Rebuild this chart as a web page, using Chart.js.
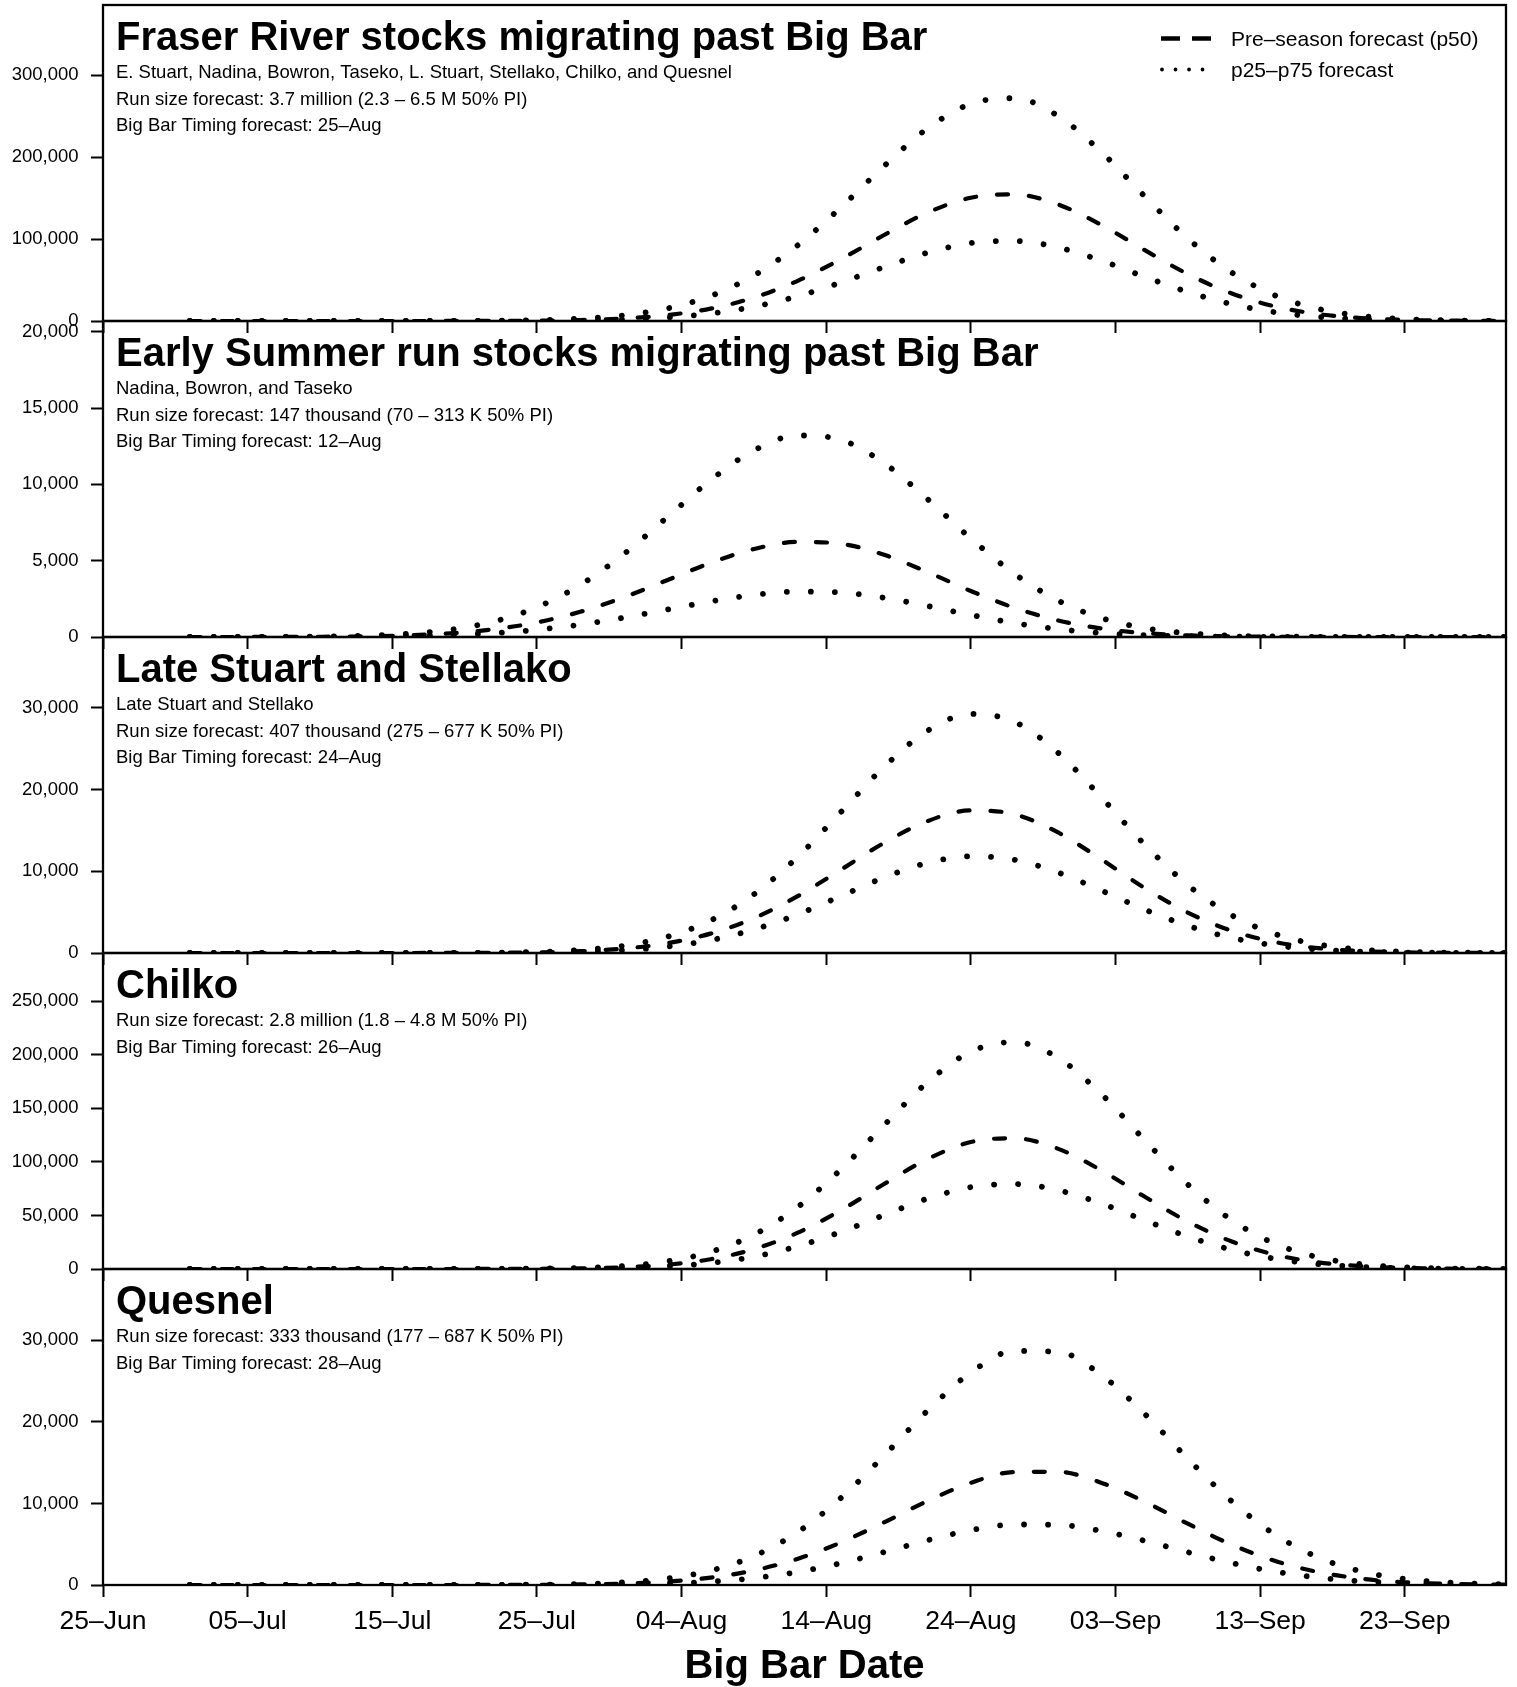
<!DOCTYPE html>
<html>
<head>
<meta charset="utf-8">
<title>Big Bar run timing forecast</title>
<script src="https://cdn.jsdelivr.net/npm/chart.js@4.4.1/dist/chart.umd.min.js"></script>
<style>
  body { margin: 0; background: #fff; }
  #wrap { position: relative; width: 1517px; height: 1687px; overflow: hidden; background: #fff; }
  #wrap canvas { position: absolute; left: 0; }
</style>
</head>
<body>
<div id="wrap">
  <canvas id="c0" width="1517" height="335" style="top:0px"></canvas>
  <canvas id="c1" width="1517" height="335" style="top:316px"></canvas>
  <canvas id="c2" width="1517" height="335" style="top:632px"></canvas>
  <canvas id="c3" width="1517" height="335" style="top:948px"></canvas>
  <canvas id="c4" width="1517" height="423" style="top:1264px"></canvas>
</div>
<script>
// days since 25-Jun
var days = [6, 9, 12, 15, 18, 21, 24, 27, 30, 33, 36, 39, 42, 45, 48, 51,
            54, 57, 60, 63, 66, 69, 72, 75, 78, 81, 84, 87, 90, 93, 96, 97];
var tickDays = [0, 10, 20, 30, 40, 50, 60, 70, 80, 90];
var dateLabels = ['25–Jun', '05–Jul', '15–Jul', '25–Jul', '04–Aug', '14–Aug', '24–Aug', '03–Sep', '13–Sep', '23–Sep'];

var fraserP50 = [0, 0, 0, 1, 3, 10, 39, 135, 430, 1190, 3070, 7180, 15050, 28520, 48730, 75270,
                 104900, 132200, 150400, 154500, 142400, 117500, 86700, 57260, 33870, 17890, 8470, 3590, 1360, 460, 140, 100];
var fraserP25 = [0, 0, 0, 1, 2, 6, 22, 73, 236, 685, 1795, 4250, 9050, 17380, 30050, 46840,
                 65820, 83300, 95050, 97700, 89880, 73800, 54100, 35410, 20680, 10780, 5020, 2085, 772, 256, 75, 55];
var fraserP75 = [0, 0, 1, 2, 8, 32, 112, 363, 1070, 2850, 6900, 15230, 30500, 55560, 91950, 138300,
                 189000, 234900, 265000, 271800, 250500, 206600, 152500, 100700, 59560, 31460, 14880, 6300, 2390, 810, 245, 170];

var earlyP50 = [0, 1, 5, 15, 42, 106, 242, 504, 955, 1651, 2597, 3720, 4851, 5760, 6227, 6110,
                5384, 4254, 3014, 1917, 1094, 559, 257, 106, 39, 13, 4, 1, 0, 0, 0, 0];
var earlyP25 = [0, 1, 3, 8, 22, 55, 123, 253, 474, 810, 1263, 1795, 2329, 2756, 2975, 2918,
                2571, 2032, 1440, 916, 522, 267, 123, 51, 19, 6, 2, 1, 0, 0, 0, 0];
var earlyP75 = [1, 3, 9, 28, 79, 203, 475, 1010, 1948, 3410, 5424, 7837, 10270, 12220, 13200, 12920,
                11390, 9037, 6455, 4149, 2400, 1250, 586, 248, 94, 32, 10, 3, 1, 0, 0, 0];

var lateP50 = [0, 0, 0, 0, 1, 2, 8, 27, 82, 221, 539, 1189, 2368, 4260, 6925, 10170,
               13470, 16130, 17440, 16980, 14770, 11480, 7971, 4944, 2739, 1354, 599, 236, 83, 27, 8, 5];
var lateP25 = [0, 0, 0, 0, 0, 1, 5, 16, 49, 136, 341, 773, 1569, 2866, 4708, 6951,
               9231, 11020, 11830, 11410, 9871, 7661, 5333, 3331, 1865, 936, 422, 171, 62, 20, 6, 4];
var lateP75 = [0, 0, 0, 0, 1, 3, 13, 43, 131, 358, 886, 1975, 3965, 7175, 11700, 17200,
               22770, 27180, 29240, 28290, 24540, 19080, 13300, 8306, 4653, 2338, 1051, 424, 153, 50, 15, 10];

var chilkoP50 = [0, 0, 0, 0, 0, 2, 12, 47, 169, 543, 1557, 3985, 9085, 18520, 33690, 54710,
                 79290, 102600, 118500, 122100, 112400, 92270, 67630, 44260, 25850, 13480, 6272, 2609, 965, 319, 94, 65];
var chilkoP25 = [0, 0, 0, 0, 0, 1, 6, 28, 101, 327, 944, 2433, 5605, 11500, 21090, 34500,
                 50390, 65670, 76420, 79380, 73710, 61250, 45550, 30310, 18040, 9610, 4585, 1956, 746, 254, 77, 53];
var chilkoP75 = [0, 0, 0, 0, 1, 6, 25, 96, 333, 1030, 2860, 7140, 15950, 31970, 57490, 92750,
                 134200, 174300, 202900, 211900, 197400, 163600, 120500, 78930, 45960, 23790, 10960, 4490, 1630, 528, 152, 105];

var quesnelP50 = [0, 0, 0, 0, 0, 0, 1, 7, 23, 66, 174, 416, 905, 1785, 3197, 5200,
                  7680, 10300, 12530, 13850, 13880, 12550, 10230, 7514, 4972, 2967, 1594, 772, 337, 133, 47, 33];
var quesnelP25 = [0, 0, 0, 0, 0, 0, 0, 2, 8, 24, 70, 178, 410, 849, 1586, 2664,
                  4030, 5486, 6723, 7417, 7373, 6644, 5430, 4025, 2706, 1649, 912, 457, 208, 86, 32, 23];
var quesnelP75 = [0, 0, 0, 0, 0, 1, 3, 12, 39, 118, 320, 789, 1759, 3543, 6454, 10640,
                  15860, 21370, 26050, 28700, 28610, 25780, 21020, 15490, 10320, 6222, 3392, 1672, 745, 301, 110, 77];

var yMax = [385500, 20700, 38650, 295000, 38750];
var yTicks = [
  [0, 100000, 200000, 300000],
  [0, 5000, 10000, 15000, 20000],
  [0, 10000, 20000, 30000],
  [0, 50000, 100000, 150000, 200000, 250000],
  [0, 10000, 20000, 30000]
];

var titles = [
  'Fraser River stocks migrating past Big Bar',
  'Early Summer run stocks migrating past Big Bar',
  'Late Stuart and Stellako',
  'Chilko',
  'Quesnel'
];
var notes = [
  ['E. Stuart, Nadina, Bowron, Taseko, L. Stuart, Stellako, Chilko, and Quesnel',
   'Run size forecast: 3.7 million (2.3 – 6.5 M 50% PI)',
   'Big Bar Timing forecast: 25–Aug'],
  ['Nadina, Bowron, and Taseko',
   'Run size forecast: 147 thousand (70 – 313 K 50% PI)',
   'Big Bar Timing forecast: 12–Aug'],
  ['Late Stuart and Stellako',
   'Run size forecast: 407 thousand (275 – 677 K 50% PI)',
   'Big Bar Timing forecast: 24–Aug'],
  ['Run size forecast: 2.8 million (1.8 – 4.8 M 50% PI)',
   'Big Bar Timing forecast: 26–Aug'],
  ['Run size forecast: 333 thousand (177 – 687 K 50% PI)',
   'Big Bar Timing forecast: 28–Aug']
];
var legendLabels = ['Pre–season forecast (p50)', 'p25–p75 forecast'];

var FONT = "'Liberation Sans', Arial, Helvetica, sans-serif";
Chart.defaults.font.family = FONT;
Chart.defaults.color = '#000';

var dashStyle = { borderColor: '#000', borderWidth: 4.2, borderDash: [11, 21], borderCapStyle: 'round' };
var dotStyle = { borderColor: '#000', borderWidth: 5.8, borderDash: [0.01, 24], borderCapStyle: 'round' };

function series(vals) {
  return days.map(function (d, i) { return { x: d, y: vals[i] }; });
}

// frame, panel title, notes and (first panel) legend
var panelText = {
  id: 'panelText',
  afterDraw: function (chart, args, opts) {
    var ctx = chart.ctx, a = chart.chartArea;
    ctx.save();
    ctx.setLineDash([]);
    ctx.strokeStyle = '#000';
    ctx.lineWidth = 2.3;
    ctx.strokeRect(a.left, a.top, a.right - a.left, a.bottom - a.top);

    ctx.fillStyle = '#000';
    ctx.textAlign = 'left';
    ctx.textBaseline = 'alphabetic';
    ctx.font = 'bold 40px ' + FONT;
    ctx.fillText(opts.title, a.left + 13, a.top + 45);
    ctx.font = '18.5px ' + FONT;
    opts.notes.forEach(function (t, i) {
      ctx.fillText(t, a.left + 13, a.top + 72.7 + 26.8 * i);
    });

    if (opts.legend) {
      ctx.lineWidth = 4.5;
      ctx.lineCap = 'butt';
      ctx.setLineDash([19, 12]);
      ctx.beginPath();
      ctx.moveTo(1161, a.top + 33.5);
      ctx.lineTo(1212, a.top + 33.5);
      ctx.stroke();
      ctx.lineWidth = 3.8;
      ctx.lineCap = 'round';
      ctx.setLineDash([0.01, 13.5]);
      ctx.beginPath();
      ctx.moveTo(1162, a.top + 64.5);
      ctx.lineTo(1210, a.top + 64.5);
      ctx.stroke();
      ctx.font = '21px ' + FONT;
      ctx.fillText(legendLabels[0], 1231, a.top + 41.4);
      ctx.fillText(legendLabels[1], 1231, a.top + 71.8);
    }
    ctx.restore();
  }
};

function makePanel(i, p50, p25, p75) {
  var isLast = (i === 4);
  var tickGrid = { display: true, drawOnChartArea: false, drawTicks: true,
                   tickLength: 12, tickWidth: 2, tickColor: '#000' };
  new Chart(document.getElementById('c' + i), {
    type: 'line',
    data: {
      datasets: [
        Object.assign({ label: legendLabels[0], data: series(p50) }, dashStyle),
        Object.assign({ label: 'p25', data: series(p25) }, dotStyle),
        Object.assign({ label: 'p75', data: series(p75) }, dotStyle)
      ]
    },
    options: {
      responsive: false,
      animation: false,
      devicePixelRatio: 1,
      layout: { padding: { top: 5, right: 11, left: 0, bottom: 0 } },
      elements: {
        point: { radius: 0, hoverRadius: 0 },
        line: { cubicInterpolationMode: 'monotone', fill: false }
      },
      plugins: {
        legend: { display: false },
        tooltip: { enabled: false },
        panelText: { title: titles[i], notes: notes[i], legend: i === 0 }
      },
      scales: {
        x: {
          type: 'linear', position: 'bottom', min: 0, max: 97, bounds: 'data',
          afterBuildTicks: function (s) { s.ticks = tickDays.map(function (v) { return { value: v }; }); },
          afterFit: function (s) {
            s.height = isLast ? 102 : 14;
            s.paddingLeft = 0; s.paddingRight = 0; s.paddingTop = 0; s.paddingBottom = 0;
          },
          grid: tickGrid,
          border: { display: false },
          ticks: {
            display: isLast, autoSkip: false, maxRotation: 0, padding: 8.6,
            font: { size: 26.5 },
            callback: function (v, idx) { return dateLabels[idx]; }
          },
          title: {
            display: isLast, text: 'Big Bar Date',
            font: { size: 40, weight: 'bold', lineHeight: 0.9 },
            padding: { top: 0, bottom: 2.4 }
          }
        },
        y: {
          type: 'linear', position: 'left', min: 0, max: yMax[i], bounds: 'data',
          afterBuildTicks: function (s) { s.ticks = yTicks[i].map(function (v) { return { value: v }; }); },
          afterFit: function (s) {
            s.width = 103;
            s.paddingLeft = 0; s.paddingRight = 0; s.paddingTop = 0; s.paddingBottom = 0;
          },
          grid: tickGrid,
          border: { display: false },
          ticks: {
            autoSkip: false, padding: 12.5, font: { size: 18.5 },
            callback: function (v) { return v.toLocaleString('en-US'); }
          }
        }
      }
    },
    plugins: [panelText]
  });
}

makePanel(0, fraserP50, fraserP25, fraserP75);
makePanel(1, earlyP50, earlyP25, earlyP75);
makePanel(2, lateP50, lateP25, lateP75);
makePanel(3, chilkoP50, chilkoP25, chilkoP75);
makePanel(4, quesnelP50, quesnelP25, quesnelP75);
</script>
</body>
</html>
